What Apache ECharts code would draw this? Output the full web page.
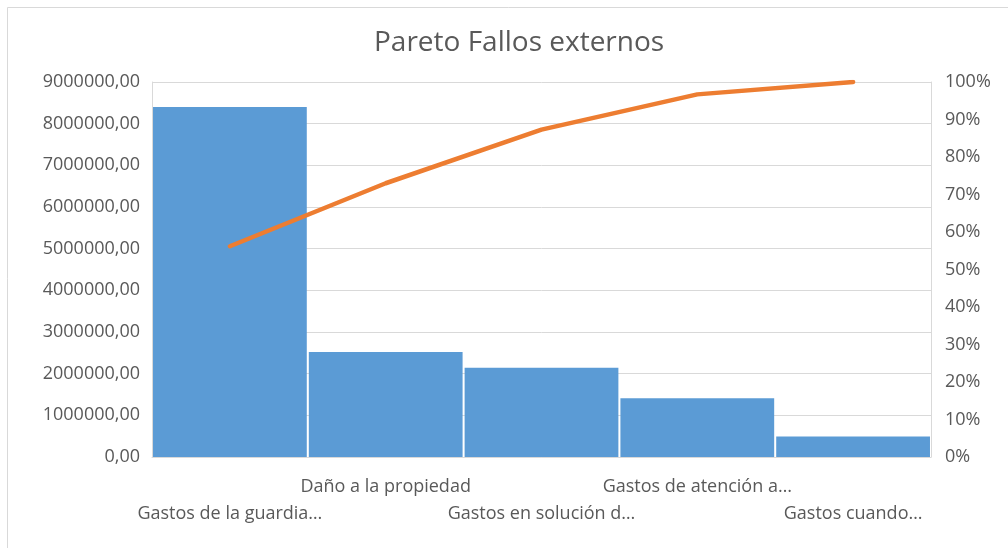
<!DOCTYPE html>
<html>
<head>
<meta charset="utf-8">
<script src="https://cdn.jsdelivr.net/npm/echarts@6/dist/echarts.min.js"></script>
<style>
  html, body { margin: 0; padding: 0; background: #fff; }
  #chart { width: 1008px; height: 548px; }
</style>
</head>
<body>
<div id="chart"></div>
<script>
// Pareto of external failure costs
const categories = [
  'Gastos de la guardia…',
  'Daño a la propiedad',
  'Gastos en solución d…',
  'Gastos de atención a…',
  'Gastos cuando…'
];
const costs = [8400000, 2520000, 2140000, 1410000, 490000];
const cumulativePct = [56.2, 73.0, 87.3, 96.7, 100];
const costTicks = { min: 0, max: 9000000, step: 1000000 };
const pctTicks = { min: 0, max: 100, step: 10 };

const textColor = '#595959';
const gridColor = '#d9d9d9';
const font = '"Open Sans", "Noto Sans", sans-serif';

const chart = echarts.init(document.getElementById('chart'));
chart.setOption({
  backgroundColor: '#fff',
  animation: false,
  graphic: [{
    type: 'rect',
    shape: { x: 7.5, y: 7.5, width: 1020, height: 560 },
    style: { fill: 'none', stroke: '#d9d9d9', lineWidth: 1 },
    silent: true
  }],
  title: {
    text: 'Pareto Fallos externos',
    left: 369,
    top: 24,
    textStyle: { color: textColor, fontFamily: font, fontSize: 28, fontWeight: 'normal' }
  },
  grid: { left: 152, right: 77, top: 82, bottom: 91, containLabel: false },
  xAxis: {
    type: 'category',
    data: categories,
    axisLine: { show: true, lineStyle: { color: gridColor } },
    axisTick: { show: false },
    axisLabel: {
      interval: 0,
      margin: 16,
      color: textColor,
      fontFamily: font,
      fontSize: 18,
      lineHeight: 27,
      formatter: (v, i) => (i % 2 === 0 ? '\n' + v : v)
    }
  },
  yAxis: [{
    type: 'value',
    min: costTicks.min,
    max: costTicks.max,
    interval: costTicks.step,
    axisLine: { show: true, lineStyle: { color: gridColor } },
    axisTick: { show: false },
    splitLine: { show: true, lineStyle: { color: gridColor, width: 1 } },
    axisLabel: {
      margin: 12,
      color: textColor,
      fontFamily: font,
      fontSize: 18,
      formatter: v => v + ',00'
    }
  }, {
    type: 'value',
    position: 'right',
    min: pctTicks.min,
    max: pctTicks.max,
    interval: pctTicks.step,
    axisLine: { show: true, lineStyle: { color: gridColor } },
    axisTick: { show: false },
    splitLine: { show: false },
    axisLabel: {
      margin: 14,
      color: textColor,
      fontFamily: font,
      fontSize: 18,
      formatter: v => v + '%'
    }
  }],
  series: [{
    type: 'bar',
    data: costs,
    barCategoryGap: '1.3%',
    itemStyle: { color: '#5b9bd5' },
    z: 2
  }, {
    type: 'line',
    yAxisIndex: 1,
    data: cumulativePct,
    symbol: 'none',
    lineStyle: { color: '#ed7d31', width: 4.5, cap: 'round' },
    z: 3
  }]
});
</script>
</body>
</html>
